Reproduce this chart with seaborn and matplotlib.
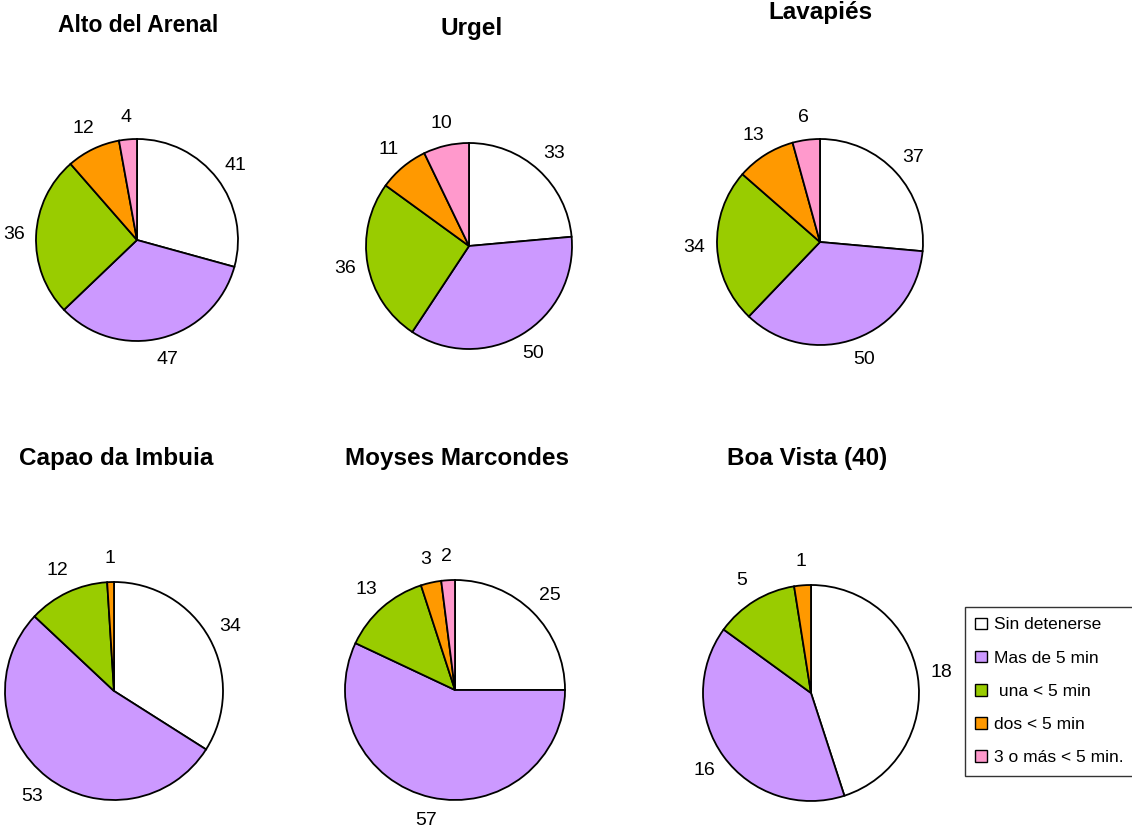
import matplotlib
matplotlib.use('Agg')
import matplotlib.pyplot as plt
import matplotlib.patches as mpatches
import seaborn as sns

sns.set_style('white')
plt.rcParams['font.family'] = ['Liberation Sans', 'DejaVu Sans']
plt.rcParams['text.color'] = 'black'

# Data
sites = ['Alto del Arenal', 'Urgel', 'Lavapiés',
         'Capao da Imbuia', 'Moyses Marcondes', 'Boa Vista (40)']
categories = ['Sin detenerse', 'Mas de 5 min', ' una < 5 min',
              'dos < 5 min', '3 o más < 5 min.']
sin_detenerse = [41, 33, 37, 34, 25, 18]
mas_5_min = [47, 50, 50, 53, 57, 16]
una_5_min = [36, 36, 34, 12, 13, 5]
dos_5_min = [12, 11, 13, 1, 3, 1]
tres_5_min = [4, 10, 6, 0, 2, 0]

colors = ['#FFFFFF', '#CC99FF', '#99CC00', '#FF9900', '#FF99CC']

W, H = 1132, 834
# pie centre x, centre y, radius (pixels), title x, title y, title size
layout = [
    (137, 240, 101, 138, 25, 16.5),
    (469, 246, 103, 472, 28, 17.5),
    (820, 242, 103, 820, 13, 17.5),
    (114, 691, 109, 116, 459, 17.5),
    (455, 690, 110, 457, 459, 17.5),
    (811, 693, 108, 807, 459, 17.5),
]

fig = plt.figure(figsize=(W / 100, H / 100), dpi=100)

for i, site in enumerate(sites):
    cx, cy, r, tx, ty, ts = layout[i]
    vals = [sin_detenerse[i], mas_5_min[i], una_5_min[i], dos_5_min[i], tres_5_min[i]]
    keep = [k for k, v in enumerate(vals) if v > 0]
    v = [vals[k] for k in keep]
    c = [colors[k] for k in keep]
    k = 1.5
    ax = fig.add_axes([(cx - k * r) / W, 1 - (cy + k * r) / H, 2 * k * r / W, 2 * k * r / H])
    ax.pie(v, colors=c, labels=[str(x) for x in v], startangle=90, counterclock=False,
           labeldistance=1.22, radius=1,
           wedgeprops=dict(edgecolor='black', linewidth=1.3),
           textprops=dict(fontsize=14, ha='center', va='center', color='black'))
    ax.set_xlim(-k, k)
    ax.set_ylim(-k, k)
    ax.set_aspect('equal')
    ax.axis('off')
    fig.text(tx / W, 1 - ty / H, site, ha='center', va='center',
             fontsize=ts, fontweight='bold', color='black')

handles = [mpatches.Patch(facecolor=col, edgecolor='black', linewidth=1.0) for col in colors]
leg = fig.legend(handles, categories, loc='upper left',
                 bbox_to_anchor=(965 / W, 1 - 607 / H), fontsize=12.5,
                 frameon=True, fancybox=False, edgecolor='black',
                 handlelength=0.65, handleheight=0.65, handletextpad=0.4,
                 labelspacing=1.05, borderpad=0.6, borderaxespad=0)
leg.get_frame().set_linewidth(1.0)
for t in leg.get_texts():
    t.set_color('black')

fig.savefig('out.png', dpi=100)
